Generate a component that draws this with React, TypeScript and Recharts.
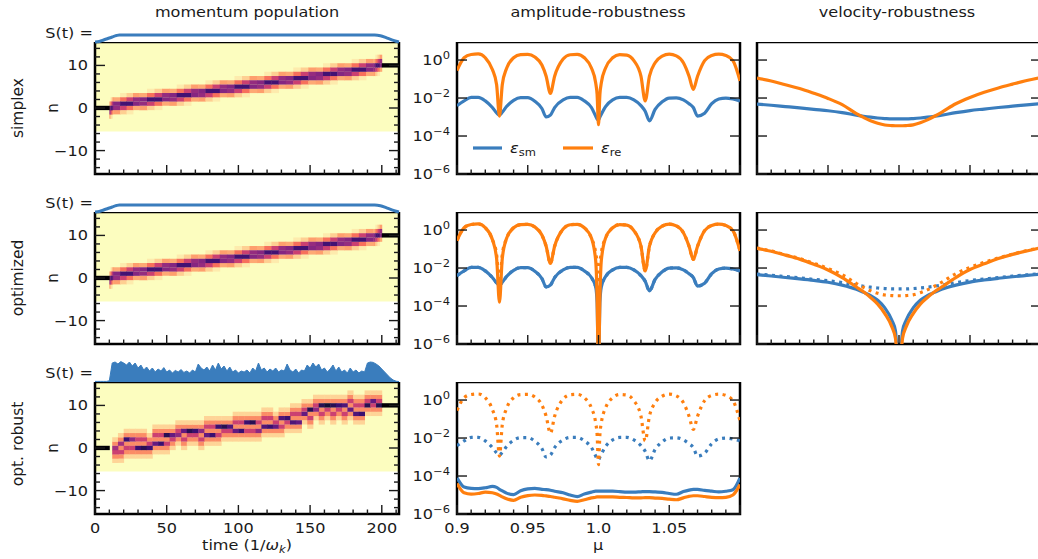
import React from 'react';
import { ComposedChart, Line, Area, XAxis, YAxis, ReferenceArea } from 'recharts';

const FONT = '"DejaVu Sans", "Liberation Sans", sans-serif';
const BLUE = '#3a7dbd';
const ORANGE = '#ff7f0e';
const INK = '#1a1a1a';
const SX = 1.15; // the figure's text runs a little wide

// magma_r: empty -> full population
const MAGMA_R = ['#fcfdbf', '#fecf92', '#fe9f6d', '#f7705c', '#de4968', '#b73779', '#8c2981', '#641a80', '#3b0f70', '#140e36', '#000004'];

// ---------- amplitude-robustness, log10(error) vs mu ----------
const amplitudeMu = [0.9, 0.905, 0.91, 0.915, 0.92, 0.925, 0.928, 0.93, 0.932, 0.935, 0.94, 0.945, 0.95, 0.955, 0.96, 0.963, 0.966, 0.969, 0.975, 0.98, 0.985, 0.99, 0.995, 0.998, 0.999, 1.0, 1.001, 1.002, 1.005, 1.01, 1.015, 1.02, 1.025, 1.03, 1.033, 1.036, 1.04, 1.045, 1.05, 1.055, 1.06, 1.064, 1.067, 1.07, 1.075, 1.08, 1.085, 1.09, 1.095, 1.1];
const ampSmSimplex = [-2.4, -2.15, -1.97, -1.97, -2.15, -2.5, -2.78, -2.9, -2.75, -2.45, -2.12, -1.98, -1.98, -2.17, -2.55, -3.0, -2.9, -2.5, -2.1, -1.97, -1.97, -2.15, -2.5, -2.95, -3.1, -3.15, -3.0, -2.85, -2.45, -2.1, -1.97, -1.97, -2.1, -2.4, -2.7, -3.2, -2.6, -2.2, -2.0, -1.99, -2.1, -2.3, -2.5, -2.95, -2.8, -2.3, -2.05, -2.0, -2.05, -2.15];
const ampReSimplex = [-0.55, 0.12, 0.29, 0.32, 0.12, -0.5, -1.3, -2.95, -1.3, -0.45, 0.12, 0.29, 0.3, 0.16, -0.26, -0.85, -1.75, -0.85, 0.05, 0.28, 0.3, 0.12, -0.42, -1.2, -1.8, -3.4, -1.8, -1.2, -0.42, 0.12, 0.29, 0.26, -0.03, -0.85, -2.15, -0.85, -0.14, 0.2, 0.31, 0.22, -0.14, -0.85, -1.55, -0.85, -0.03, 0.24, 0.31, 0.24, -0.03, -1.1];
const ampSmOptimized = [-2.4, -2.15, -1.97, -1.97, -2.15, -2.5, -2.78, -2.9, -2.75, -2.45, -2.12, -1.98, -1.98, -2.17, -2.55, -3.0, -2.9, -2.5, -2.1, -1.97, -1.97, -2.15, -2.5, -3.0, -3.8, -7.5, -3.8, -3.0, -2.45, -2.1, -1.97, -1.97, -2.1, -2.4, -2.7, -3.2, -2.6, -2.2, -2.0, -1.99, -2.1, -2.3, -2.5, -2.95, -2.8, -2.3, -2.05, -2.0, -2.05, -2.15];
const ampReOptimized = [-0.55, 0.12, 0.29, 0.32, 0.12, -0.5, -1.5, -3.8, -1.5, -0.45, 0.12, 0.29, 0.3, 0.16, -0.26, -0.85, -1.75, -0.85, 0.05, 0.28, 0.3, 0.12, -0.42, -1.6, -3.5, -7.5, -3.5, -1.6, -0.42, 0.12, 0.29, 0.26, -0.03, -0.85, -2.15, -0.85, -0.14, 0.2, 0.31, 0.22, -0.14, -0.85, -1.55, -0.85, -0.03, 0.24, 0.31, 0.24, -0.03, -1.1];
const ampSmRobust = [-4.1, -4.58, -4.65, -4.66, -4.62, -4.55, -4.6, -4.7, -4.78, -4.9, -4.98, -4.78, -4.68, -4.65, -4.7, -4.72, -4.75, -4.8, -4.88, -5.0, -5.08, -4.95, -4.85, -4.8, -4.8, -4.8, -4.8, -4.8, -4.8, -4.8, -4.82, -4.85, -4.85, -4.83, -4.82, -4.82, -4.84, -4.86, -4.92, -4.96, -4.82, -4.74, -4.7, -4.7, -4.76, -4.8, -4.84, -4.8, -4.72, -4.1];
const ampReRobust = [-4.4, -4.88, -4.95, -4.92, -4.85, -4.88, -4.95, -5.02, -5.1, -5.2, -5.28, -5.12, -5.03, -5.0, -5.02, -5.05, -5.08, -5.12, -5.2, -5.28, -5.33, -5.25, -5.15, -5.12, -5.1, -5.1, -5.1, -5.1, -5.1, -5.1, -5.12, -5.13, -5.15, -5.15, -5.14, -5.14, -5.16, -5.18, -5.22, -5.25, -5.15, -5.07, -5.04, -5.04, -5.08, -5.12, -5.14, -5.12, -5.0, -4.45];

// ---------- velocity-robustness, log10(error) vs velocity offset ----------
const velocity = [-2, -1.8, -1.6, -1.4, -1.2, -1, -0.8, -0.6, -0.5, -0.4, -0.3, -0.2, -0.1, -0.05, 0, 0.05, 0.1, 0.2, 0.3, 0.4, 0.5, 0.6, 0.8, 1, 1.2, 1.4, 1.6, 1.8, 2];
const velSmSimplex = [-2.32, -2.38, -2.45, -2.52, -2.6, -2.67, -2.77, -2.9, -2.96, -3.01, -3.05, -3.08, -3.1, -3.1, -3.1, -3.1, -3.1, -3.08, -3.05, -3.01, -2.96, -2.9, -2.77, -2.66, -2.58, -2.5, -2.43, -2.36, -2.3];
const velReSimplex = [-0.95, -1.1, -1.3, -1.5, -1.75, -2.02, -2.35, -2.82, -3.02, -3.2, -3.33, -3.42, -3.45, -3.46, -3.46, -3.46, -3.45, -3.41, -3.3, -3.15, -2.96, -2.75, -2.3, -1.97, -1.7, -1.47, -1.27, -1.08, -0.92];
const velSmOptimized = [-2.35, -2.42, -2.5, -2.57, -2.65, -2.75, -2.9, -3.12, -3.28, -3.45, -3.7, -4.1, -4.75, -5.3, -7.5, -5.3, -4.75, -4.1, -3.7, -3.45, -3.28, -3.12, -2.9, -2.74, -2.63, -2.54, -2.46, -2.39, -2.32];
const velReOptimized = [-0.96, -1.12, -1.32, -1.53, -1.8, -2.1, -2.5, -3.0, -3.25, -3.55, -3.9, -4.4, -5.1, -5.7, -7.5, -5.7, -5.1, -4.4, -3.9, -3.55, -3.25, -3.0, -2.5, -2.08, -1.78, -1.5, -1.28, -1.1, -0.93];

// ---------- S(t) pulse envelopes ----------
const pulseT = [0, 3, 6, 9, 12, 15, 17, 195, 199, 203, 207, 210, 212];
const pulseS = [0, 0.08, 0.28, 0.5, 0.72, 0.92, 1, 1, 0.9, 0.62, 0.3, 0.1, 0];
const robustPulseT = [0, 2, 4, 6, 8, 10, 12, 14, 16, 18, 20, 22, 24, 26, 28, 30, 32, 34, 36, 38, 40, 42, 44, 46, 48, 50, 52, 54, 56, 58, 60, 62, 64, 66, 68, 70, 72, 74, 76, 78, 80, 82, 84, 86, 88, 90, 92, 94, 96, 98, 100, 102, 104, 106, 108, 110, 112, 114, 116, 118, 120, 122, 124, 126, 128, 130, 132, 134, 136, 138, 140, 142, 144, 146, 148, 150, 152, 154, 156, 158, 160, 162, 164, 166, 168, 170, 172, 174, 176, 178, 180, 182, 184, 186, 188, 190, 192, 194, 196, 198, 200, 202, 204, 206, 208, 210, 212];
const robustPulseS = [0.03, 0.03, 0.03, 0.03, 0.03, 0.06, 0.95, 1.0, 0.9, 1.02, 0.95, 0.85, 1.0, 0.8, 0.95, 0.7, 0.85, 0.6, 0.75, 0.55, 0.7, 0.5, 0.65, 0.55, 0.72, 0.5, 0.6, 0.45, 0.58, 0.5, 0.62, 0.48, 0.55, 0.45, 0.6, 0.5, 0.9, 0.7, 0.6, 0.75, 0.55, 0.85, 0.6, 0.95, 0.65, 0.8, 0.55, 0.75, 0.5, 0.6, 0.45, 0.55, 0.5, 0.6, 0.45, 0.7, 0.55, 0.95, 0.6, 0.7, 0.5, 0.65, 0.55, 0.7, 0.5, 0.6, 0.55, 0.9, 0.6, 0.5, 0.65, 0.45, 0.6, 0.55, 0.85, 0.7, 0.95, 0.75, 0.9, 0.6, 0.7, 0.5, 0.65, 0.85, 0.55, 0.75, 0.5, 0.6, 0.45, 0.7, 0.5, 0.6, 0.45, 0.55, 0.5, 0.95, 1.0, 0.98, 0.9, 0.8, 0.65, 0.5, 0.35, 0.2, 0.1, 0.04, 0.02];

// ---------- momentum population ----------
// staircase: level n occupied between bounds[i] and bounds[i+1]
const simplexLevels = [0, 1, 2, 3, 4, 5, 6, 7, 8, 9, 10];
const simplexBounds = [10, 13, 31, 52, 72, 92, 113, 133, 154, 174, 194, 200];
const optimizedLevels = [0, 1, 2, 3, 4, 5, 6, 7, 8, 9, 10];
const optimizedBounds = [10, 13, 31, 52, 72, 92, 113, 133, 154, 174, 194, 200];
// robust: dominant and secondary momentum state per time bin
const robustBinStart = [12, 16, 20, 24, 28, 32, 36, 40, 44, 48, 52, 56, 60, 64, 68, 72, 76, 80, 84, 88, 92, 96, 100, 104, 108, 112, 116, 120, 124, 128, 132, 136, 140, 144, 148, 152, 156, 160, 164, 168, 172, 176, 180, 184, 188, 192, 196];
const robustMain = [0, 1, 2, 2, 0, 0, 0, 1, 1, 3, 3, 3, 4, 4, 4, 4, 3, 3, 5, 5, 5, 4, 4, 6, 6, 4, 5, 5, 5, 7, 7, 6, 6, 8, 9, 9, 10, 10, 10, 10, 10, 9, 8, 8, 10, 11, 10];
const robustSide = [-1, -1, 0, 0, 2, 2, 1, 3, 3, 1, 2, 4, 2, 3, 3, 2, 5, 5, 3, 4, 4, 6, 6, 4, 4, 6, 7, 7, 6, 5, 6, 8, 8, 9, 7, 10, 8, 9, 8, 9, 8, 11, 10, 10, 11, 10, 11];
const robustWeight = [0.55, 0.55, 0.8, 0.6, 0.8, 0.85, 0.8, 0.7, 0.8, 0.85, 0.7, 0.6, 0.7, 0.85, 0.8, 0.6, 0.7, 0.8, 0.8, 0.85, 0.75, 0.7, 0.8, 0.8, 0.85, 0.6, 0.75, 0.8, 0.7, 0.75, 0.8, 0.75, 0.7, 0.7, 0.85, 0.6, 0.85, 0.9, 0.85, 0.8, 0.75, 0.7, 0.75, 0.8, 0.85, 0.7, 0.85];

// ticks
const timeTicks = [0, 10, 20, 30, 40, 50, 60, 70, 80, 90, 100, 110, 120, 130, 140, 150, 160, 170, 180, 190, 200, 210];
const timeMajors = [0, 50, 100, 150, 200];
const nTicks = [-14, -12, -10, -8, -6, -4, -2, 0, 2, 4, 6, 8, 10, 12, 14];
const nMajors = [-10, 0, 10];
const muTicks = [0.9, 0.91, 0.92, 0.93, 0.94, 0.95, 0.96, 0.97, 0.98, 0.99, 1.0, 1.01, 1.02, 1.03, 1.04, 1.05, 1.06, 1.07, 1.08, 1.09, 1.1];
const muMajors = [0.9, 0.95, 1.0, 1.05, 1.1];
const muLabels: Record<string, string> = { '0.9': '0.9', '0.95': '0.95', '1': '1.0', '1.05': '1.05' };
const velTicks = [-2, -1.8, -1.6, -1.4, -1.2, -1, -0.8, -0.6, -0.4, -0.2, 0, 0.2, 0.4, 0.6, 0.8, 1, 1.2, 1.4, 1.6, 1.8, 2];
const velMajors = [-2, -1, 0, 1, 2];
const logTicks = [-6, -4, -2, 0];

// layout (page px)
const HEAT_X0 = 95, HEAT_W = 304;
const AMP_X0 = 457, AMP_W = 283;
const VEL_X0 = 757, VEL_W = 284;
const ROW_TOP = [42, 212, 382];
const PLOT_H = 132;
const PAD_B = 30;

const ampRows = amplitudeMu.map((mu, i) => ({
  mu,
  smS: ampSmSimplex[i], reS: ampReSimplex[i],
  smO: ampSmOptimized[i], reO: ampReOptimized[i],
  smR: ampSmRobust[i], reR: ampReRobust[i],
}));
const velRows = velocity.map((v, i) => ({
  v,
  smS: velSmSimplex[i], reS: velReSimplex[i],
  smO: velSmOptimized[i], reO: velReOptimized[i],
}));
const pulseRows = pulseT.map((t, i) => ({ t, s: pulseS[i] }));
const robustPulseRows = robustPulseT.map((t, i) => ({ t, s: robustPulseS[i] }));

function rgb(h: string) {
  return [1, 3, 5].map((k) => parseInt(h.slice(k, k + 2), 16));
}
function cmap(v: number) {
  const x = Math.max(0, Math.min(1, v)) * (MAGMA_R.length - 1);
  const i = Math.min(Math.floor(x), MAGMA_R.length - 2);
  const f = x - i;
  const a = rgb(MAGMA_R[i]);
  const b = rgb(MAGMA_R[i + 1]);
  const c = a.map((q, k) => Math.round(q + (b[k] - q) * f));
  return `rgb(${c[0]},${c[1]},${c[2]})`;
}

type Cell = { t0: number; t1: number; n: number; v: number };

// shading of a level across its four quarters: row offset -> intensities
const STAIR_SHADE: [number, number[]][] = [
  [2, [0, 0.04, 0.1, 0.2]],
  [-2, [0.2, 0.1, 0.04, 0]],
  [1, [0.18, 0.3, 0.45, 0.58]],
  [-1, [0.58, 0.45, 0.3, 0.18]],
  [0, [0.62, 0.78, 0.78, 0.62]],
];

function stairCells(levels: number[], bounds: number[]): Cell[] {
  const cells: Cell[] = [];
  levels.forEach((k, i) => {
    const a = bounds[i];
    const w = (bounds[i + 1] - a) / 4;
    STAIR_SHADE.forEach(([dn, shades]) => {
      shades.forEach((v, q) => {
        if (v > 0) cells.push({ t0: a + q * w, t1: a + (q + 1) * w, n: k + dn, v });
      });
    });
  });
  cells.push({ t0: 0, t1: bounds[0], n: levels[0], v: 1 });
  cells.push({ t0: bounds[bounds.length - 1], t1: 212, n: levels[levels.length - 1], v: 1 });
  return cells;
}

function robustCells(): Cell[] {
  const halo: Cell[] = [];
  const core: Cell[] = [];
  robustBinStart.forEach((t0, i) => {
    const t1 = i + 1 < robustBinStart.length ? robustBinStart[i + 1] : 200;
    const n = robustMain[i];
    const n2 = robustSide[i];
    const lo = Math.min(n, n2) - 2;
    const hi = Math.max(n, n2) + 2;
    for (let r = lo; r <= hi; r++) {
      if (r === n || r === n2) continue;
      const d = Math.min(Math.abs(r - n), Math.abs(r - n2));
      halo.push({ t0, t1, n: r, v: d === 1 ? 0.24 : 0.09 });
    }
    core.push({ t0, t1, n: n2, v: 0.45 });
    core.push({ t0, t1, n, v: robustWeight[i] });
  });
  core.push({ t0: 0, t1: 10, n: 0, v: 1 });
  core.push({ t0: 200, t1: 212, n: 10, v: 1 });
  return [...halo, ...core];
}

const simplexCells = stairCells(simplexLevels, simplexBounds);
const optimizedCells = stairCells(optimizedLevels, optimizedBounds);
const robustHeat = robustCells();

const isIn = (arr: number[], v: number) => arr.some((m) => Math.abs(m - v) < 1e-6);
const minus = (v: number) => (v < 0 ? '\u2212' + Math.abs(v) : String(v));

// horizontally stretched text
function T({ x, y, anchor = 'start', size = 14, children }: { x: number; y: number; anchor?: 'start' | 'middle' | 'end'; size?: number; children: React.ReactNode }) {
  return (
    <text transform={`translate(${x},${y}) scale(${SX},1)`} textAnchor={anchor} fontFamily={FONT} fontSize={size} fill={INK}>
      {children}
    </text>
  );
}

type TickOpts = {
  side: 'left' | 'right' | 'bottom';
  majors: number[];
  major: number;
  minor: number;
  label?: (v: number) => React.ReactNode;
};

function makeTick({ side, majors, major, minor, label }: TickOpts) {
  return (props: any) => {
    const { x, y, payload } = props;
    const v = Number(payload?.value);
    const big = isIn(majors, v);
    const len = big ? major : minor;
    let line;
    if (side === 'left') line = <line x1={x} y1={y} x2={x + len} y2={y} stroke={INK} strokeWidth={1.4} />;
    else if (side === 'right') line = <line x1={x} y1={y} x2={x - len} y2={y} stroke={INK} strokeWidth={1.4} />;
    else line = <line x1={x} y1={y} x2={x} y2={y - len} stroke={INK} strokeWidth={1.4} />;
    const txt = big && label ? label(v) : null;
    return (
      <g>
        {line}
        {txt !== null && txt !== undefined && (side === 'left' ? (
          <T x={x - 7} y={y + 5} anchor="end">{txt}</T>
        ) : (
          <T x={x} y={y + 19} anchor="middle">{txt}</T>
        ))}
      </g>
    );
  };
}

const logLabel = (v: number) => (
  <>
    10<tspan dy={-6} fontSize={10}>{minus(v)}</tspan>
  </>
);

function HeatPanel({ top, cells, labels }: { top: number; cells: Cell[]; labels: boolean }) {
  const padL = 45;
  const padR = 6;
  return (
    <div style={{ position: 'absolute', left: HEAT_X0 - padL, top }}>
      <ComposedChart width={padL + HEAT_W + padR} height={PLOT_H + PAD_B} data={cells} margin={{ top: 0, right: 0, bottom: 0, left: 0 }}>
        <XAxis xAxisId="b" dataKey="t0" type="number" domain={[0, 212]} ticks={timeTicks} interval={0} height={PAD_B}
          tickSize={0} tickMargin={0} tickLine={false} axisLine={false} allowDataOverflow
          tick={makeTick({ side: 'bottom', majors: timeMajors, major: 9, minor: 4.5, label: labels ? (v) => String(v) : undefined })} />
        <YAxis yAxisId="l" type="number" domain={[-15.5, 15.5]} ticks={nTicks} interval={0} width={padL}
          tickSize={0} tickMargin={0} tickLine={false} axisLine={false} allowDataOverflow
          tick={makeTick({ side: 'left', majors: nMajors, major: 10, minor: 5, label: minus })} />
        <YAxis yAxisId="r" orientation="right" type="number" domain={[-15.5, 15.5]} ticks={nTicks} interval={0} width={padR}
          tickSize={0} tickMargin={0} tickLine={false} axisLine={false} allowDataOverflow
          tick={makeTick({ side: 'right', majors: nMajors, major: 10, minor: 5 })} />
        <ReferenceArea xAxisId="b" yAxisId="l" x1={0} x2={212} y1={-5.5} y2={15.5} fill={MAGMA_R[0]} fillOpacity={1} stroke="none" />
        {cells.map((c, i) => (
          <ReferenceArea key={i} xAxisId="b" yAxisId="l" x1={c.t0} x2={Math.min(c.t1 + 0.3, 212)}
            y1={c.n - 0.5} y2={c.n + 0.52} fill={cmap(c.v)} fillOpacity={1} stroke="none" />
        ))}
        <Line xAxisId="b" yAxisId="l" dataKey="n" stroke="none" dot={false} activeDot={false} isAnimationActive={false} />
        <ReferenceArea xAxisId="b" yAxisId="l" x1={0} x2={212} y1={-15.5} y2={15.5} fill="none" fillOpacity={0} stroke="#000" strokeWidth={2.5} />
      </ComposedChart>
    </div>
  );
}

function PulseStrip({ top, height, maxS, rows, filled }: { top: number; height: number; maxS: number; rows: { t: number; s: number }[]; filled?: boolean }) {
  return (
    <div style={{ position: 'absolute', left: HEAT_X0, top }}>
      <ComposedChart width={HEAT_W + 2} height={height + 6} data={rows} margin={{ top: 0, right: 2, bottom: 6, left: 0 }}>
        <XAxis dataKey="t" type="number" domain={[0, 212]} hide />
        <YAxis type="number" domain={[0, maxS]} hide />
        {filled ? (
          <Area dataKey="s" type="linear" stroke={BLUE} strokeWidth={1} fill={BLUE} fillOpacity={1} dot={false} activeDot={false} isAnimationActive={false} />
        ) : (
          <Line dataKey="s" type="monotone" stroke={BLUE} strokeWidth={3} dot={false} activeDot={false} isAnimationActive={false} />
        )}
      </ComposedChart>
    </div>
  );
}

type Series = { key: string; color: string; dotted?: boolean };

function CurvePanel(props: {
  x0: number; top: number; plotW: number; padL: number; padR: number; data: any[]; xKey: string;
  xDomain: [number, number]; xTicks: number[]; xMajors: number[]; xLabel?: (v: number) => React.ReactNode;
  yLabels?: boolean; series: Series[];
}) {
  const { x0, top, plotW, padL, padR, data, xKey, xDomain, xTicks, xMajors, xLabel, yLabels, series } = props;
  return (
    <div style={{ position: 'absolute', left: x0 - padL, top }}>
      <ComposedChart width={padL + plotW + padR} height={PLOT_H + PAD_B} data={data} margin={{ top: 0, right: 0, bottom: 0, left: 0 }}>
        <XAxis xAxisId="b" dataKey={xKey} type="number" domain={xDomain} ticks={xTicks} interval={0} height={PAD_B}
          tickSize={0} tickMargin={0} tickLine={false} axisLine={false} allowDataOverflow
          tick={makeTick({ side: 'bottom', majors: xMajors, major: 9, minor: 4.5, label: xLabel })} />
        <YAxis yAxisId="l" type="number" domain={[-6, 0.95]} ticks={logTicks} interval={0} width={padL}
          tickSize={0} tickMargin={0} tickLine={false} axisLine={false} allowDataOverflow
          tick={makeTick({ side: 'left', majors: logTicks, major: 10, minor: 10, label: yLabels ? logLabel : undefined })} />
        <YAxis yAxisId="r" orientation="right" type="number" domain={[-6, 0.95]} ticks={logTicks} interval={0} width={padR}
          tickSize={0} tickMargin={0} tickLine={false} axisLine={false} allowDataOverflow
          tick={makeTick({ side: 'right', majors: logTicks, major: 10, minor: 10 })} />
        {series.map((s) => (
          <Line key={s.key + (s.dotted ? 'd' : '')} xAxisId="b" yAxisId="l" dataKey={s.key} type="monotone"
            stroke={s.color} strokeWidth={3.2} strokeDasharray={s.dotted ? '3 4.5' : undefined}
            dot={false} activeDot={false} isAnimationActive={false} />
        ))}
        <ReferenceArea xAxisId="b" yAxisId="l" x1={xDomain[0]} x2={xDomain[1]} y1={-6} y2={0.95} fill="none" fillOpacity={0} stroke="#000" strokeWidth={2.5} />
      </ComposedChart>
    </div>
  );
}

const muLabel = (v: number) => muLabels[String(Math.round(v * 100) / 100)] ?? null;

export default function App() {
  const rowLabels = ['simplex', 'optimized', 'opt. robust'];
  const rowLabelY = [108, 278, 444];
  return (
    <div style={{ position: 'relative', width: 1038, height: 559, overflow: 'hidden', background: '#fff', fontFamily: FONT }}>
      <style>{'body{margin:0;overflow:hidden}'}</style>

      <HeatPanel top={ROW_TOP[0]} cells={simplexCells} labels={false} />
      <HeatPanel top={ROW_TOP[1]} cells={optimizedCells} labels={false} />
      <HeatPanel top={ROW_TOP[2]} cells={robustHeat} labels />

      <PulseStrip top={28} height={14} maxS={2} rows={pulseRows} />
      <PulseStrip top={198} height={14} maxS={2} rows={pulseRows} />
      <PulseStrip top={358} height={24} maxS={1.2} rows={robustPulseRows} filled />

      <CurvePanel x0={AMP_X0} top={ROW_TOP[0]} plotW={AMP_W} padL={50} padR={8} data={ampRows} xKey="mu"
        xDomain={[0.9, 1.1]} xTicks={muTicks} xMajors={muMajors} yLabels
        series={[{ key: 'smS', color: BLUE }, { key: 'reS', color: ORANGE }]} />
      <CurvePanel x0={AMP_X0} top={ROW_TOP[1]} plotW={AMP_W} padL={50} padR={8} data={ampRows} xKey="mu"
        xDomain={[0.9, 1.1]} xTicks={muTicks} xMajors={muMajors} yLabels
        series={[{ key: 'smS', color: BLUE, dotted: true }, { key: 'reS', color: ORANGE, dotted: true }, { key: 'smO', color: BLUE }, { key: 'reO', color: ORANGE }]} />
      <CurvePanel x0={AMP_X0} top={ROW_TOP[2]} plotW={AMP_W} padL={50} padR={8} data={ampRows} xKey="mu"
        xDomain={[0.9, 1.1]} xTicks={muTicks} xMajors={muMajors} yLabels xLabel={muLabel}
        series={[{ key: 'smS', color: BLUE, dotted: true }, { key: 'reS', color: ORANGE, dotted: true }, { key: 'smR', color: BLUE }, { key: 'reR', color: ORANGE }]} />

      <CurvePanel x0={VEL_X0} top={ROW_TOP[0]} plotW={VEL_W} padL={8} padR={8} data={velRows} xKey="v"
        xDomain={[-2, 2]} xTicks={velTicks} xMajors={velMajors}
        series={[{ key: 'smS', color: BLUE }, { key: 'reS', color: ORANGE }]} />
      <CurvePanel x0={VEL_X0} top={ROW_TOP[1]} plotW={VEL_W} padL={8} padR={8} data={velRows} xKey="v"
        xDomain={[-2, 2]} xTicks={velTicks} xMajors={velMajors}
        series={[{ key: 'smS', color: BLUE, dotted: true }, { key: 'reS', color: ORANGE, dotted: true }, { key: 'smO', color: BLUE }, { key: 'reO', color: ORANGE }]} />

      <svg width={1038} height={559} style={{ position: 'absolute', left: 0, top: 0, pointerEvents: 'none' }}
        fontFamily={FONT} fontSize={14} fill={INK}>
        <T x={247} y={17} anchor="middle">momentum population</T>
        <T x={598} y={17} anchor="middle">amplitude-robustness</T>
        <T x={897} y={17} anchor="middle">velocity-robustness</T>

        {ROW_TOP.map((t, i) => (
          <g key={i}>
            <T x={93} y={t - 4} anchor="end">S(t) =</T>
            <text transform={`translate(58,${t + 66}) rotate(-90)`} textAnchor="middle" fontSize={15}>n</text>
            <text transform={`translate(23,${rowLabelY[i]}) rotate(-90)`} textAnchor="middle" fontSize={15.5}>{rowLabels[i]}</text>
          </g>
        ))}

        <T x={247} y={550} anchor="middle">
          time (1/<tspan fontStyle="italic">ω</tspan><tspan fontStyle="italic" fontSize={10} dy={3}>k</tspan><tspan dy={-3}>)</tspan>
        </T>
        <T x={598} y={550} anchor="middle">μ</T>

        <line x1={473} y1={148} x2={502} y2={148} stroke={BLUE} strokeWidth={3.2} />
        <T x={510} y={153}>
          <tspan fontStyle="italic">ε</tspan><tspan fontSize={10} dy={3}>sm</tspan>
        </T>
        <line x1={563} y1={148} x2={593} y2={148} stroke={ORANGE} strokeWidth={3.2} />
        <T x={601} y={153}>
          <tspan fontStyle="italic">ε</tspan><tspan fontSize={10} dy={3}>re</tspan>
        </T>
      </svg>
    </div>
  );
}
